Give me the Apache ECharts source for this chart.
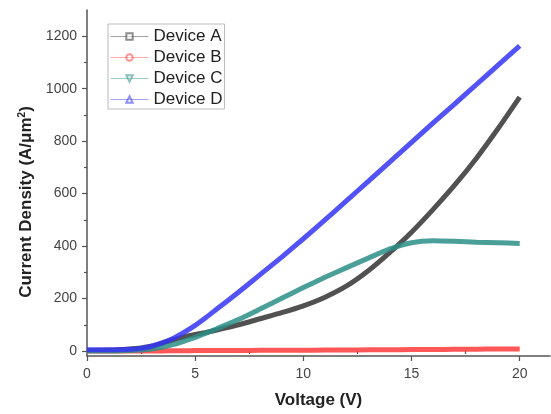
<!DOCTYPE html>
<html>
<head>
<meta charset="utf-8">
<script src="https://cdn.jsdelivr.net/npm/echarts@6/dist/echarts.min.js"></script>
<style>html,body{margin:0;padding:0;background:#fff;}#c{width:551px;height:414px;}</style>
</head>
<body>
<div id="c"></div>
<script>
const voltages = [0,1,2,2.5,3,3.5,4,4.5,5,5.5,6,7,8,9,10,11,12,13,14,15,16,17,18,19,20];
const deviceA = [2,3,8,12,18,30,43,54,63,71,80,100,123,146,172,205,248,306,376,453,540,633,735,848,968];
const deviceB = [0,0,0,0,0,0.5,1,1,1.5,1.5,2,2,2.5,3,3,3.5,4,4.5,5,5.5,6,6.5,7,7.5,8];
const deviceC = [0,0,2,4,8,15,25,38,52,68,85,120,160,201,242,281,318,354,389,413,420,418,415,413,410];
const deviceD = [5,5,7,10,19,32,49,72,98,128,160,224,291,358,428,500,573,647,721,795,870,942,1016,1090,1163];
const seriesNames = ['Device A','Device B','Device C','Device D'];
const xTicks = [0,5,10,15,20];
const xMinorTicks = [2.5,7.5,12.5,17.5];
const yTicks = [0,200,400,600,800,1000,1200];
const yMinorTicks = [100,300,500,700,900,1100];

const colors = ['#333333','#ff3a3a','#2a8e86','#3434f4'];
const symbols = ['emptyRect','emptyCircle','emptyTriangle','emptyTriangle'];
const rotates = [0,0,180,0];
const allData = [deviceA, deviceB, deviceC, deviceD];

const chart = echarts.init(document.getElementById('c'), null, {renderer:'canvas'});
const font = 'Arial, "Liberation Sans", sans-serif';
const axisColor = '#555';

const option = {
  animation: false,
  backgroundColor: '#fff',
  grid: {left: 87, right: 1, top: 10, bottom: 56, containLabel: false},
  legend: {
    left: 108, top: 24, orient: 'vertical',
    padding: [4, 2, 1, 2],
    itemWidth: 38, itemHeight: 8, itemGap: 4,
    borderColor: '#bbbbbb', borderWidth: 1,
    data: seriesNames,
    textStyle: {fontFamily: font, fontSize: 17, color: '#222', lineHeight: 17},
    lineStyle: {width: 1, opacity: 0.45},
    itemStyle: {opacity: 0.55},
    iconRotate: 'inherit'
  },
  xAxis: [{
    type: 'value', min: 0, max: 21.4,
    name: 'Voltage (V)', nameLocation: 'middle', nameGap: 36,
    nameTextStyle: {fontFamily: font, fontSize: 17, fontWeight: 'bold', color: '#222'},
    axisLine: {show: true, onZero: false, lineStyle: {color: axisColor, width: 1.5}},
    axisTick: {show: true, inside: false, length: 5, customValues: xTicks, lineStyle: {color: axisColor, width: 1.2}},
    axisLabel: {show: true, margin: 11, customValues: xTicks, fontFamily: font, fontSize: 14, color: '#444', formatter: v => String(v)},
    splitLine: {show: false}
  }, {
    type: 'value', min: 0, max: 21.4, position: 'bottom',
    axisLine: {show: false},
    axisTick: {show: true, inside: false, length: 3, customValues: xMinorTicks, lineStyle: {color: axisColor, width: 1.2}},
    axisLabel: {show: false},
    splitLine: {show: false}
  }],
  yAxis: [{
    type: 'value', min: -19, max: 1300,
    name: 'Current Density (A/μm{sup|2})', nameLocation: 'middle', nameGap: 37, nameRotate: 90,
    nameTextStyle: {fontFamily: font, fontSize: 17, fontWeight: 'bold', color: '#222', padding: [0, 38, 0, 0],
      rich: {sup: {fontFamily: font, fontSize: 10, fontWeight: 'bold', color: '#222', padding: [0, 0, 9, 0]}}},
    axisLine: {show: true, onZero: false, lineStyle: {color: axisColor, width: 1.5}},
    axisTick: {show: true, inside: false, length: 5, customValues: yTicks, lineStyle: {color: axisColor, width: 1.2}},
    axisLabel: {show: true, margin: 10, customValues: yTicks, fontFamily: font, fontSize: 14, color: '#444', formatter: v => String(v)},
    splitLine: {show: false}
  }, {
    type: 'value', min: -19, max: 1300, position: 'left',
    axisLine: {show: false},
    axisTick: {show: true, inside: false, length: 3, customValues: yMinorTicks, lineStyle: {color: axisColor, width: 1.2}},
    axisLabel: {show: false},
    splitLine: {show: false}
  }],
  series: allData.map((vals, i) => ({
    name: seriesNames[i],
    type: 'line',
    xAxisIndex: 0, yAxisIndex: 0,
    data: voltages.map((v, j) => [v, vals[j]]),
    smooth: 0.2,
    symbol: symbols[i],
    symbolRotate: rotates[i],
    symbolSize: 5,
    showSymbol: false,
    color: colors[i],
    lineStyle: {color: colors[i], width: 5, opacity: 0.85},
    itemStyle: {color: colors[i]},
    emphasis: {disabled: true}
  }))
};
chart.setOption(option);
</script>
</body>
</html>
